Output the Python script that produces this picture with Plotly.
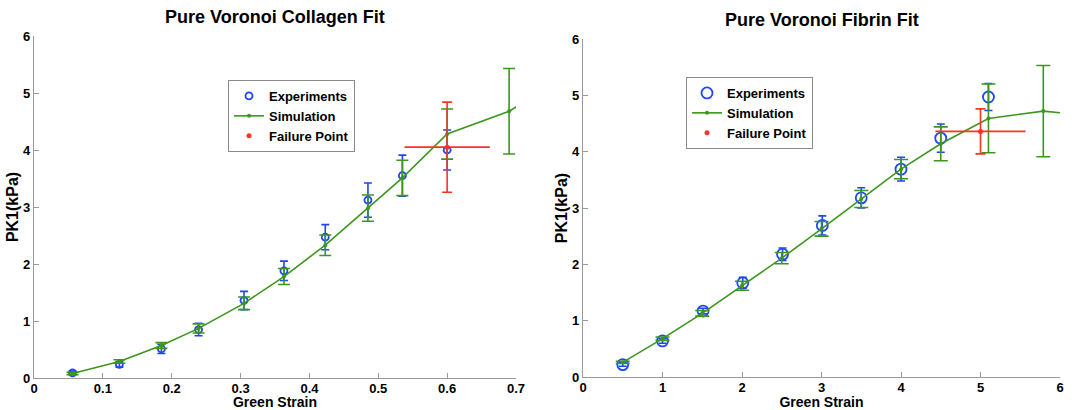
import plotly.graph_objects as go

# ---------------- Collagen (left) ----------------
col_exp_x = [0.056, 0.124, 0.185, 0.239, 0.305, 0.363, 0.423, 0.485, 0.535, 0.600]
col_exp_y = [0.09, 0.24, 0.51, 0.85, 1.36, 1.88, 2.47, 3.12, 3.55, 4.00]
col_exp_err = [0.03, 0.05, 0.08, 0.11, 0.16, 0.17, 0.22, 0.30, 0.36, 0.35]

col_sim_x = [0.056, 0.124, 0.185, 0.239, 0.305, 0.363, 0.423, 0.485, 0.535, 0.600, 0.690, 0.760]
col_sim_y = [0.08, 0.29, 0.57, 0.87, 1.31, 1.78, 2.33, 2.98, 3.51, 4.28, 4.68, 5.20]
col_sim_err = [0.02, 0.03, 0.05, 0.08, 0.11, 0.14, 0.18, 0.23, 0.31, 0.44, 0.75, 0.80]

col_fail_x = [0.600]
col_fail_y = [4.05]
col_fail_err_y = [0.79]
col_fail_err_x = [0.062]

# ---------------- Fibrin (right) ----------------
fib_exp_x = [0.50, 1.00, 1.51, 2.01, 2.51, 3.01, 3.50, 4.00, 4.50, 5.10]
fib_exp_y = [0.22, 0.64, 1.17, 1.67, 2.18, 2.69, 3.18, 3.69, 4.24, 4.97]
fib_exp_err = [0.03, 0.04, 0.05, 0.10, 0.11, 0.17, 0.18, 0.21, 0.25, 0.24]

fib_sim_x = [0.50, 1.00, 1.50, 2.00, 2.50, 3.00, 3.50, 4.00, 4.50, 5.10, 5.79, 6.50]
fib_sim_y = [0.26, 0.68, 1.13, 1.62, 2.11, 2.63, 3.16, 3.69, 4.14, 4.59, 4.72, 4.62]
fib_sim_err = [0.02, 0.03, 0.05, 0.08, 0.10, 0.13, 0.15, 0.17, 0.30, 0.61, 0.81, 0.80]

fib_fail_x = [5.00]
fib_fail_y = [4.36]
fib_fail_err_y = [0.40]
fib_fail_err_x = [0.567]

col_ticks = [0, 0.1, 0.2, 0.3, 0.4, 0.5, 0.6, 0.7]
fib_ticks = [0, 1, 2, 3, 4, 5, 6]
y_ticks = [0, 1, 2, 3, 4, 5, 6]

BLUE = "#1e46ff"
GREEN = "#3c961e"
RED = "#ff3322"
AXIS = "#9a9a9a"
FONT = "Liberation Sans"

fig = go.Figure()

def add_panel(xa, ya, leg, ex, ey, ee, sx, sy, se, fx, fy, fey, fex, msize, bcap, gcap):
    fig.add_trace(go.Scatter(
        x=ex, y=ey, mode="markers", name="Experiments", xaxis=xa, yaxis=ya, legend=leg,
        marker=dict(symbol="circle-open", size=msize, color=BLUE, line=dict(width=1.8, color=BLUE)),
        error_y=dict(type="data", array=ee, visible=True, color=BLUE, thickness=1.6, width=bcap),
    ))
    fig.add_trace(go.Scatter(
        x=sx, y=sy, mode="lines+markers", name="Simulation", xaxis=xa, yaxis=ya, legend=leg,
        line=dict(color=GREEN, width=1.6),
        marker=dict(symbol="circle", size=4, color=GREEN),
        error_y=dict(type="data", array=se, visible=True, color=GREEN, thickness=1.6, width=gcap),
    ))
    fig.add_trace(go.Scatter(
        x=fx, y=fy, mode="markers", name="Failure Point", xaxis=xa, yaxis=ya, legend=leg,
        marker=dict(symbol="circle", size=5, color=RED),
        error_y=dict(type="data", array=fey, visible=True, color=RED, thickness=1.6, width=5),
        error_x=dict(type="data", array=fex, visible=True, color=RED, thickness=1.6, width=0),
    ))

add_panel("x", "y", "legend", col_exp_x, col_exp_y, col_exp_err,
          col_sim_x, col_sim_y, col_sim_err,
          col_fail_x, col_fail_y, col_fail_err_y, col_fail_err_x, 7, 4, 6)
add_panel("x2", "y2", "legend2", fib_exp_x, fib_exp_y, fib_exp_err,
          fib_sim_x, fib_sim_y, fib_sim_err,
          fib_fail_x, fib_fail_y, fib_fail_err_y, fib_fail_err_x, 11, 4, 7)

W, H = 1078, 410

axis_common = dict(
    showline=True, linecolor=AXIS, linewidth=1.2, mirror=False,
    ticks="inside", ticklen=5, tickcolor=AXIS, tickwidth=1,
    showgrid=False, zeroline=False, automargin=False,
    tickfont=dict(family=FONT, size=13, color="black", weight="bold"),
)

xtitle = dict(text="Green Strain", standoff=0, font=dict(family=FONT, size=14, weight="bold"))
ytitle = dict(text="PK1(kPa)", standoff=0, font=dict(family=FONT, size=16, weight="bold"))

fig.update_layout(
    width=W, height=H,
    margin=dict(l=0, r=0, t=0, b=0),
    paper_bgcolor="white", plot_bgcolor="white",
    font=dict(family=FONT, color="black"),
    showlegend=True,
    xaxis=dict(domain=[34 / W, 516 / W], range=[0, 0.7], tickvals=col_ticks,
               ticktext=[str(t) for t in col_ticks], anchor="y", title=xtitle,
               ticklabelstandoff=-2, **axis_common),
    yaxis=dict(domain=[(H - 378) / H, (H - 36) / H], range=[0, 6], tickvals=y_ticks,
               anchor="x", title=ytitle, **axis_common),
    xaxis2=dict(domain=[583 / W, 1060 / W], range=[0, 6], tickvals=fib_ticks,
                anchor="y2", title=xtitle, ticklabelstandoff=-2, **axis_common),
    yaxis2=dict(domain=[(H - 377) / H, (H - 39) / H], range=[0, 6], tickvals=y_ticks,
                anchor="x2", title=ytitle, **axis_common),
    legend=dict(x=228 / W, y=(H - 80) / H, xanchor="left", yanchor="top",
                bgcolor="white", bordercolor="#8a8a8a", borderwidth=1,
                font=dict(family=FONT, size=13, color="black", weight="bold"),
                tracegroupgap=0, itemwidth=30),
    legend2=dict(x=686 / W, y=(H - 77) / H, xanchor="left", yanchor="top",
                 bgcolor="white", bordercolor="#8a8a8a", borderwidth=1,
                 font=dict(family=FONT, size=13, color="black", weight="bold"),
                 tracegroupgap=0, itemwidth=30),
    annotations=[
        dict(text="Pure Voronoi Collagen Fit", xref="x domain", yref="paper", x=0.5, y=(H - 17) / H,
             xanchor="center", yanchor="middle", showarrow=False,
             font=dict(family=FONT, size=18, color="black", weight="bold")),
        dict(text="Pure Voronoi Fibrin Fit", xref="x2 domain", yref="paper", x=0.5, y=(H - 20) / H,
             xanchor="center", yanchor="middle", showarrow=False,
             font=dict(family=FONT, size=18, color="black", weight="bold")),
    ],
)

fig.write_html("out.html", config={"displayModeBar": False},
               post_script="document.body.style.margin='0';document.body.style.overflow='hidden';")
